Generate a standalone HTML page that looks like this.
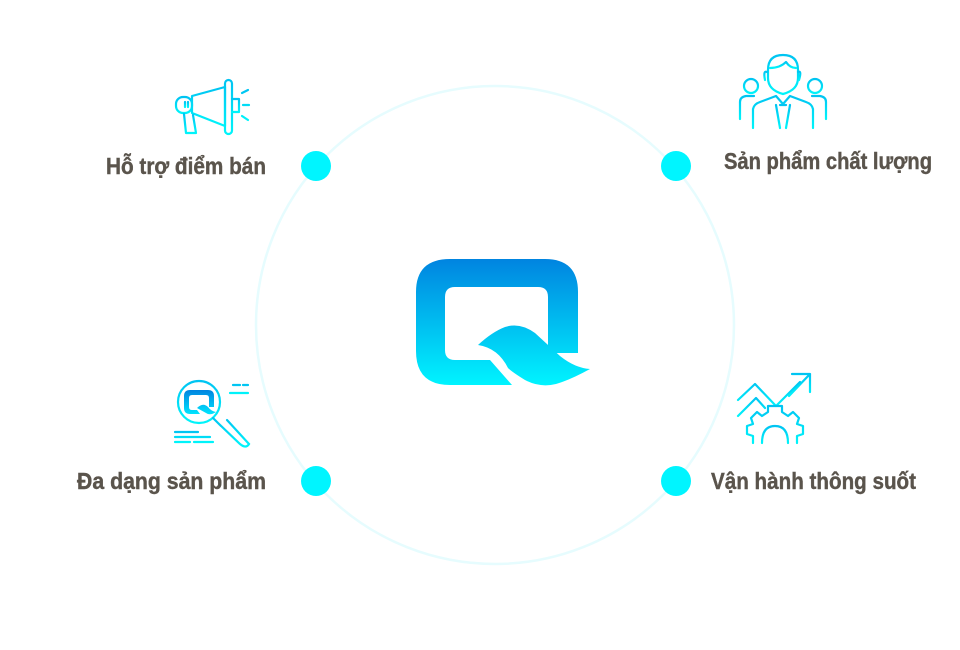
<!DOCTYPE html>
<html><head><meta charset="utf-8"><style>
html,body{margin:0;padding:0;background:#fff;}
svg{display:block}
text{font-family:"Liberation Sans",sans-serif;font-weight:bold;fill:#5a544c;font-size:23px;stroke:#5a544c;stroke-width:0.4}
</style></head><body>
<svg width="960" height="650" viewBox="0 0 960 650" xmlns="http://www.w3.org/2000/svg">
<defs>
<linearGradient id="qg" gradientUnits="userSpaceOnUse" x1="0" y1="259" x2="0" y2="385">
<stop offset="0" stop-color="#0084e0"/><stop offset="1" stop-color="#00f4ff"/>
</linearGradient>
<linearGradient id="qs" gradientUnits="userSpaceOnUse" x1="0" y1="390" x2="0" y2="415">
<stop offset="0" stop-color="#0084e0"/><stop offset="1" stop-color="#00e8ff"/>
</linearGradient>
<linearGradient id="ig" x1="0" y1="0" x2="0" y2="1">
<stop offset="0" stop-color="#00c4f2"/><stop offset="1" stop-color="#00f4fa"/>
</linearGradient>
</defs>
<circle cx="495" cy="325" r="239" fill="none" stroke="#e6fcfe" stroke-width="2.5"/>
<circle cx="316" cy="166" r="15" fill="#00f5ff"/>
<circle cx="676" cy="166" r="15" fill="#00f5ff"/>
<circle cx="316" cy="481" r="15" fill="#00f5ff"/>
<circle cx="676" cy="481" r="15" fill="#00f5ff"/>

<path fill="url(#qg)" fill-rule="evenodd" d="M450 259 H545 Q578 259 578 292 V353 L548 353 V297 Q548 287 538 287 H455 Q445 287 445 297 V350 Q445 360 455 360 H490 L512 385 H450 Q416 385 416 351 V292 Q416 259 450 259 Z"/>
<path fill="url(#qg)" d="M478 345 Q492 332 505 327 Q520 322 535 333 L560 356 Q575 368 590 369 Q570 380 556 384 Q540 388 525 380 Q512 372 508 368 Q498 348 478 345 Z"/>

<g fill="none" stroke="url(#ig)" stroke-width="2.2" stroke-linejoin="round" stroke-linecap="round">
<rect x="176" y="97" width="16" height="16" rx="7"/>
<path d="M192 96 L225 87 V126 L192 113 Z"/>
<rect x="225" y="80" width="7" height="54" rx="3.5"/>
<path d="M232 99 H239 V112 H232"/>
<path d="M184 114 L186 133 H196 L193 115"/>
<path d="M242 93 L248 90 M243 105 H249 M242 116 L248 120"/>
<path d="M185 102 V107 M188 102 V107"/>
</g>

<g fill="none" stroke="url(#ig)" stroke-width="2.2" stroke-linejoin="round" stroke-linecap="round">
<path d="M768 70 Q768 55 783 55 Q798 55 798 70 V78 Q798 90 783 94 Q768 90 768 78 Z"/>
<path d="M770 68 Q780 68 786 62 Q790 68 796 68"/>
<path d="M765 80 Q763 70 767 72 M799 80 Q802 70 798 72"/>
<path d="M753 128 V109 Q754 104 760 102 L776 96 L783 104 L790 96 L806 102 Q812 104 813 109 V128"/>
<path d="M776 105 L780 128 M790 105 L786 128 M780 105 H786"/>
<circle cx="751" cy="86" r="7"/>
<circle cx="815" cy="86" r="7"/>
<path d="M740 119 V102 Q740 97 746 96 H754 M826 119 V102 Q826 97 820 96 H812"/>
</g>

<g fill="none" stroke="url(#ig)" stroke-width="2.2" stroke-linecap="round">
<circle cx="199" cy="402" r="21"/>
<path d="M213 418 L221 426 M218 423 L240 444 Q246 449 249 444 L227 420"/>
<path d="M233 385 H240 M243 385 H248 M230 393 H248"/>
<path d="M175 432 H198 M175 437 H210 M175 442 H190 M194 442 H213"/>
</g>
<path fill="url(#qs)" fill-rule="evenodd" d="M190 390 H208 Q214 390 214 396 V407 L209 407 V398 Q209 395 206 395 H192 Q189 395 189 398 V407 Q189 410 192 410 H197 L200 414 H190 Q184 414 184 408 V396 Q184 390 190 390 Z M197 408 Q203 402 208 407 Q211 411 216 412 Q210 416 206 413 Z"/>

<g fill="none" stroke="url(#ig)" stroke-width="2.2" stroke-linejoin="round" stroke-linecap="round">
<path d="M738 400 L755 384 L776 406 L800 382"/>
<path d="M792 374 H810 V392 M810 374 L789 396"/>
<path d="M738 416 L756 398 L765 408"/>
<path d="M740 443 H810"/>
<path d="M753 443 V436 L747 434 V426 L753 424 L751 418 L757 412 L762 416 L768 412 V406 H782 V412 L788 416 L793 412 L799 418 L797 424 L803 426 V434 L797 436 V443"/>
<path d="M762 443 Q762 426 775 426 Q788 426 788 443"/>
</g>

<text x="106" y="174" textLength="160" lengthAdjust="spacingAndGlyphs">Hỗ trợ điểm bán</text>
<text x="724" y="169" textLength="208" lengthAdjust="spacingAndGlyphs">Sản phẩm chất lượng</text>
<text x="77" y="489" textLength="189" lengthAdjust="spacingAndGlyphs">Đa dạng sản phẩm</text>
<text x="711" y="489" textLength="205" lengthAdjust="spacingAndGlyphs">Vận hành thông suốt</text>
</svg>
</body></html>
